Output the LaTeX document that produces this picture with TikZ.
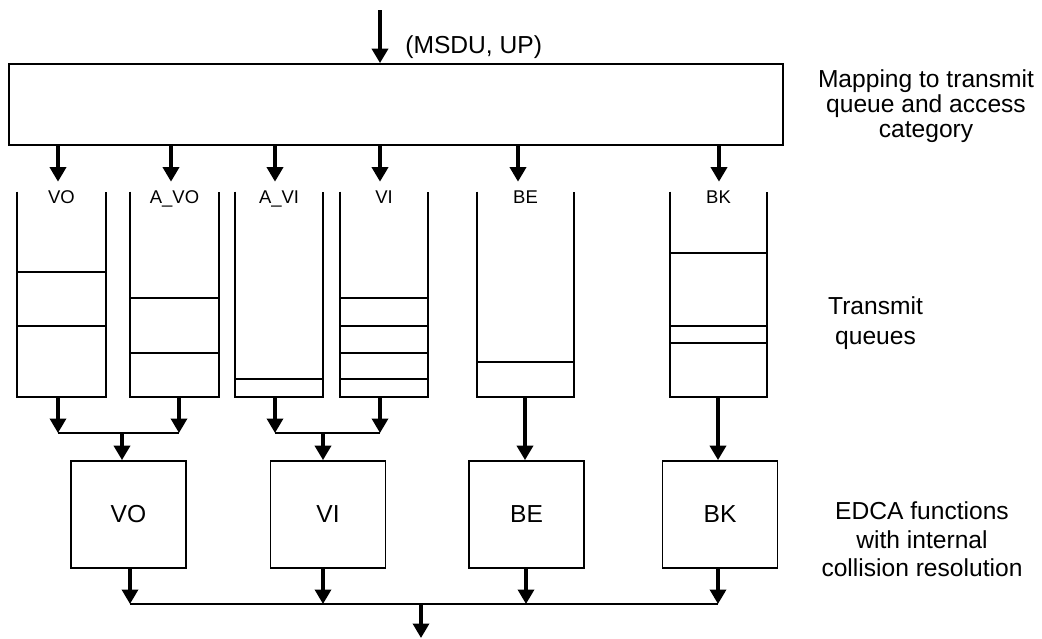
\documentclass[tikz,border=0pt]{standalone}
\usepackage{fontspec}
\setmainfont{Liberation Sans}
\usetikzlibrary{positioning, arrows.meta, calc}

\begin{document}
\begin{tikzpicture}[
    x=0.02cm, y=-0.02cm,
    every node/.style={font=\fontsize{14}{14.2}\selectfont},
    box/.style={draw, line width=1pt, inner sep=0pt},
    queue/.style={inner sep=0pt, minimum height=4.1cm},
    qlabel/.style={font=\fontsize{10.5}{12}\selectfont, inner sep=0pt, anchor=base},
    note/.style={align=center, inner sep=0pt},
    arr/.style={line width=2pt, -{Triangle[length=0.29cm, width=0.32cm]}},
    wire/.style={line width=1pt},
  ]
  \useasboundingbox (0,0) rectangle (1042,639);

  % mapping stage
  \node[box, minimum width=15.48cm, minimum height=1.62cm] (map) at (396,104.5) {};
  \coordinate (in) at (380,10);
  \draw[arr] (in) -- (in |- map.north);
  \node[anchor=base west, inner sep=0pt] (msdu) at (405,53) {(MSDU, UP)};
  \node[note] (maptxt) at (926,106.5) {Mapping to transmit\\queue and access\\category};

  % transmit queues
  \foreach \q/\x/\w/\t in {qvo/61.5/1.78cm/VO, qavo/174.5/1.78cm/A\_VO,
                           qavi/279/1.76cm/A\_VI, qvi/384/1.76cm/VI,
                           qbe/525.5/1.94cm/BE, qbk/718.5/1.94cm/BK}{
    \node[queue, minimum width=\w] (\q) at (\x,294.5) {};
    \draw[wire] (\q.north west) |- (\q.south east) -- (\q.north east);
    \node[qlabel] at ([yshift=-0.24cm]\q.north) {\t};
  }
  \foreach \q/\ys in {qvo/{272,326}, qavo/{298,353}, qavi/{379},
                      qvi/{298,326,353,379}, qbe/{362}, qbk/{253,326,343}}
    \foreach \y in \ys
      \draw[wire] (\q.west |- 0,\y) -- (\q.east |- 0,\y);
  \foreach \q/\x in {qvo/58, qavo/171, qavi/275, qvi/380, qbe/518, qbk/719}
    \draw[arr, shorten >=0.2cm] (map.south -| \x,0) -- (\q.north -| \x,0);
  \node[note, font=\fontsize{14}{17}\selectfont] (tqtxt) at (875.5,323) {Transmit\\queues};

  % EDCA functions
  \foreach \e/\x/\t in {evo/128.5/VO, evi/328/VI, ebe/526.5/BE, ebk/720/BK}
    \node[box, minimum width=2.3cm, minimum height=2.14cm] (\e) at (\x,514.5) {\t};
  \coordinate (jvo) at (122,433);
  \coordinate (jvi) at (323,433);
  \foreach \q/\x/\j in {qvo/58/jvo, qavo/179/jvo, qavi/275/jvi, qvi/380/jvi}
    \draw[arr] (\q.south -| \x,0) -- (\j -| \x,0);
  \draw[wire] (jvo -| 58,0) -- (jvo -| 179,0);
  \draw[wire] (jvi -| 275,0) -- (jvi -| 380,0);
  \draw[arr] (jvo) -- (jvo |- evo.north);
  \draw[arr] (jvi) -- (jvi |- evi.north);
  \draw[arr] (qbe.south -| 525,0) -- (ebe.north -| 525,0);
  \draw[arr] (qbk.south -| 718,0) -- (ebk.north -| 718,0);
  \node[note, font=\fontsize{14}{16.2}\selectfont] (edtxt) at (922,539.5)
    {EDCA functions\\with internal\\collision resolution};

  % output
  \coordinate (out) at (421,604);
  \coordinate (sink) at (421,638);
  \foreach \e/\x in {evo/130, evi/323, ebe/526, ebk/718}
    \draw[arr] (\e.south -| \x,0) -- (out -| \x,0);
  \draw[wire] (out -| 130,0) -- (out -| 718,0);
  \draw[arr] (out) -- (sink);
\end{tikzpicture}
\end{document}
